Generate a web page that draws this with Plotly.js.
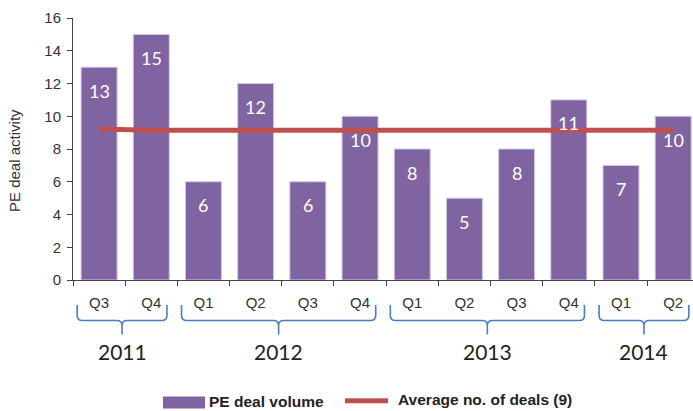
<!DOCTYPE html>
<html>
<head>
<meta charset="utf-8">
<script src="https://cdn.plot.ly/plotly-3.0.1.min.js"></script>
<style>html,body{margin:0;padding:0;background:#fff;}#chart{width:693px;height:411px;}</style>
</head>
<body>
<div id="chart"></div>
<script>
// ---- data ----
const quarters = ['Q3','Q4','Q1','Q2','Q3','Q4','Q1','Q2','Q3','Q4','Q1','Q2'];
const years = ['2011','2011','2012','2012','2012','2012','2013','2013','2013','2013','2014','2014'];
const dealVolume = [13,15,6,12,6,10,8,5,8,11,7,10];
const averageDeals = [9.22,9.15,9.14,9.14,9.14,9.14,9.14,9.14,9.14,9.14,9.14,9.14];
const volumeName = 'PE deal volume';
const averageName = 'Average no. of deals (9)';
const yTitle = 'PE deal activity';

// ---- layout constants ----
const W = 693, H = 411;
const M = {l: 73, r: 0, t: 18, b: 131};
const xRange = [-0.5, 11.38];
const plotW = W - M.l - M.r, plotH = H - M.t - M.b;
const px2paperX = px => (px - M.l) / plotW;
const py2paperY = py => (H - M.b - py) / plotH;
const idx2paperX = i => (i - xRange[0]) / (xRange[1] - xRange[0]);

const purple = '#8064a2';
const red = '#c0504d';
const braceBlue = '#4a7ebb';
const sans = '"Liberation Sans", Arial, sans-serif';
const calibriLike = 'Lato, "Open Sans", sans-serif';

const categories = quarters.map((q, i) => years[i] + ' ' + q);

const traces = [
  {
    type: 'bar', x: categories, y: dealVolume, name: volumeName,
    marker: {color: purple, line: {color: '#d3c9e2', width: 1}},
    hoverinfo: 'y', showlegend: false
  },
  {
    type: 'scatter', mode: 'lines', x: categories, y: averageDeals, name: averageName,
    line: {color: red, width: 5, shape: 'spline', smoothing: 0.6}, showlegend: false
  }
];

const annotations = [];
const shapes = [];

// data labels inside bars
dealVolume.forEach((v, i) => {
  annotations.push({
    x: categories[i], y: v, xref: 'x', yref: 'y', text: String(v), showarrow: false,
    yanchor: 'middle', yshift: -23.5,
    font: {family: calibriLike, size: 18, color: '#ffffff'}
  });
});

// year groups with braces
const groups = [];
years.forEach((y, i) => {
  const g = groups[groups.length - 1];
  if (g && g.year === y) g.last = i; else groups.push({year: y, first: i, last: i});
});
const yTop = py2paperY(305), yMid = py2paperY(320.5), yBot = py2paperY(334.5);
const rx = 0.1, ry = 5 / plotH;
groups.forEach(g => {
  const x0 = idx2paperX(g.first - 0.5 + 0.08);
  const x1 = idx2paperX(g.last + 0.5 - 0.2);
  const xm = (x0 + x1) / 2;
  const dx = idx2paperX(rx) - idx2paperX(0);
  const f = v => v.toFixed(5);
  const path =
    'M' + f(x0) + ',' + f(yTop) + ' L' + f(x0) + ',' + f(yMid + ry) +
    ' Q' + f(x0) + ',' + f(yMid) + ' ' + f(x0 + dx) + ',' + f(yMid) +
    ' L' + f(xm - dx) + ',' + f(yMid) +
    ' Q' + f(xm) + ',' + f(yMid) + ' ' + f(xm) + ',' + f(yMid - ry) +
    ' L' + f(xm) + ',' + f(yBot) +
    ' M' + f(xm) + ',' + f(yMid - ry) +
    ' Q' + f(xm) + ',' + f(yMid) + ' ' + f(xm + dx) + ',' + f(yMid) +
    ' L' + f(x1 - dx) + ',' + f(yMid) +
    ' Q' + f(x1) + ',' + f(yMid) + ' ' + f(x1) + ',' + f(yMid + ry) +
    ' L' + f(x1) + ',' + f(yTop);
  shapes.push({type: 'path', xref: 'paper', yref: 'paper', path: path,
    line: {color: braceBlue, width: 1.6}});
  annotations.push({
    xref: 'paper', yref: 'paper', x: xm, y: py2paperY(351), text: g.year, showarrow: false,
    xanchor: 'center', yanchor: 'middle',
    font: {family: calibriLike, size: 21, color: '#222222'}
  });
});

// y-axis title
annotations.push({xref: 'paper', yref: 'paper', x: px2paperX(14), y: py2paperY(161),
  text: yTitle, showarrow: false, textangle: -90, xanchor: 'center', yanchor: 'middle',
  font: {family: sans, size: 15, color: '#333333'}});

// custom legend
shapes.push({type: 'rect', xref: 'paper', yref: 'paper',
  x0: px2paperX(163), x1: px2paperX(205), y0: py2paperY(396.5), y1: py2paperY(408.5),
  fillcolor: purple, line: {width: 0}});
annotations.push({xref: 'paper', yref: 'paper', x: px2paperX(207), y: py2paperY(401.5),
  text: '<b>' + volumeName + '</b>', showarrow: false, xanchor: 'left', yanchor: 'middle',
  font: {family: sans, size: 15.5, color: '#222222'}});
shapes.push({type: 'line', xref: 'paper', yref: 'paper',
  x0: px2paperX(345), x1: px2paperX(388), y0: py2paperY(400.7), y1: py2paperY(400.7),
  line: {color: red, width: 5}});
annotations.push({xref: 'paper', yref: 'paper', x: px2paperX(396), y: py2paperY(399.5),
  text: '<b>' + averageName + '</b>', showarrow: false, xanchor: 'left', yanchor: 'middle',
  font: {family: sans, size: 15.5, color: '#222222'}});

const layout = {
  width: W, height: H, margin: M,
  paper_bgcolor: '#ffffff', plot_bgcolor: '#ffffff',
  showlegend: false, bargap: 0.31,
  font: {family: sans, color: '#333333'},
  xaxis: {
    type: 'category', range: xRange, tickmode: 'array', tickvals: categories, ticktext: quarters,
    tickson: 'boundaries', ticks: 'outside', ticklen: 5, tickcolor: '#444', tickwidth: 1,
    showline: true, linecolor: '#444', linewidth: 1, showgrid: false, zeroline: false,
    tickfont: {family: sans, size: 15, color: '#333333'}, ticklabelstandoff: 9,
    fixedrange: true
  },
  yaxis: {
    range: [0, 16], dtick: 2, ticks: 'outside', ticklen: 5, tickcolor: '#444', tickwidth: 1,
    showline: true, linecolor: '#444', linewidth: 1, showgrid: false, zeroline: false,
    tickfont: {family: sans, size: 15, color: '#333333'}, ticklabelstandoff: 3,
    fixedrange: true
  },
  annotations: annotations,
  shapes: shapes
};

Plotly.newPlot('chart', traces, layout, {displayModeBar: false, staticPlot: true});
</script>
</body>
</html>
